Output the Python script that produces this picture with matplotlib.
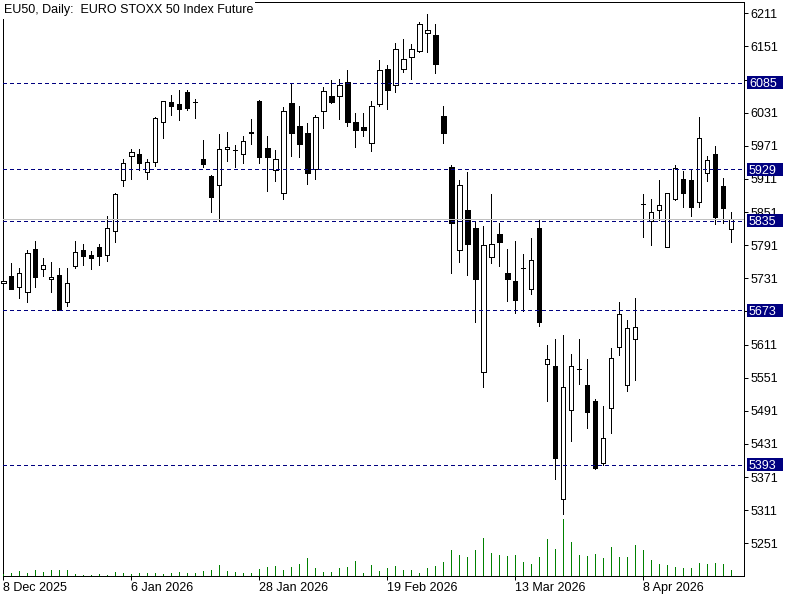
import matplotlib
matplotlib.use("Agg")
import matplotlib.pyplot as plt
import matplotlib.transforms as mtransforms
from matplotlib.patches import Rectangle

plt.rcParams['font.family'] = ['Liberation Sans', 'DejaVu Sans']

# daily OHLC, EU50 (index 0 = 8 Dec 2025)
opens = [5722, 5735, 5716, 5707, 5784, 5748, 5729, 5737, 5688, 5754,
         5782, 5773, 5787, 5774, 5817, 5909, 5952, 5956, 5923, 5942,
         6014, 6050, 6047, 6069, 6051, 5947, 5916, 5900, 5965, 5964,
         5956, 5995, 6052, 5967, 5927, 5885, 6048, 6006, 5994, 5929,
         6034, 6061, 6061, 6086, 6014, 6005, 5976, 6046, 6110, 6082,
         6111, 6131, 6143, 6175, 6172, 6025, 5932, 5782, 5854, 5822,
         5561, 5769, 5811, 5740, 5727, 5750, 5711, 5823, 5575, 5573,
         5331, 5492, 5567, 5537, 5508, 5396, 5497, 5606, 5537, 5621,
         5866, 5834, 5854, 5787, 5875, 5910, 5909, 5869, 5921, 5957,
         5898, 5820]
highs = [5730, 5758, 5749, 5782, 5799, 5767, 5761, 5750, 5750, 5799,
         5794, 5781, 5794, 5844, 5886, 5947, 5965, 5965, 5948, 6024,
         6052, 6063, 6072, 6073, 6056, 5982, 5918, 5992, 5996, 5973,
         5989, 6020, 6054, 5988, 5963, 6041, 6085, 6043, 6012, 6026,
         6077, 6090, 6092, 6108, 6030, 6030, 6052, 6126, 6118, 6158,
         6165, 6155, 6195, 6210, 6192, 6043, 5936, 5909, 5924, 5833,
         5826, 5884, 5831, 5785, 5799, 5775, 5804, 5837, 5610, 5621,
         5628, 5594, 5621, 5584, 5512, 5500, 5604, 5689, 5655, 5695,
         5883, 5875, 5909, 5886, 5936, 5925, 5927, 6024, 5953, 5971,
         5913, 5851]
lows = [5717, 5711, 5696, 5689, 5716, 5735, 5707, 5673, 5680, 5750,
        5755, 5748, 5755, 5763, 5796, 5899, 5911, 5928, 5911, 5935,
        5986, 6026, 6017, 6036, 6021, 5933, 5852, 5835, 5944, 5932,
        5940, 5974, 5939, 5890, 5908, 5875, 5953, 5950, 5901, 5911,
        6004, 6049, 6020, 6006, 5968, 5989, 5962, 6044, 6038, 6069,
        6105, 6092, 6141, 6141, 6103, 5977, 5741, 5761, 5737, 5652,
        5535, 5758, 5754, 5690, 5669, 5672, 5703, 5645, 5508, 5367,
        5304, 5437, 5539, 5459, 5385, 5393, 5451, 5593, 5526, 5546,
        5806, 5792, 5836, 5787, 5872, 5860, 5843, 5861, 5908, 5829,
        5831, 5796]
closes = [5726, 5712, 5740, 5776, 5734, 5755, 5733, 5674, 5723, 5778,
          5772, 5768, 5772, 5823, 5884, 5939, 5959, 5939, 5942, 6022,
          6052, 6044, 6038, 6040, 6050, 5938, 5879, 5965, 5969, 5963,
          5979, 5996, 5951, 5951, 5947, 6034, 5994, 5975, 5921, 6024,
          6070, 6051, 6081, 6015, 5999, 6000, 6043, 6108, 6072, 6146,
          6128, 6146, 6191, 6181, 6119, 5994, 5831, 5900, 5794, 5729,
          5791, 5794, 5796, 5730, 5691, 5749, 5765, 5651, 5584, 5405,
          5535, 5573, 5566, 5489, 5387, 5441, 5586, 5666, 5641, 5643,
          5865, 5852, 5863, 5885, 5930, 5886, 5861, 5986, 5945, 5842,
          5859, 5838]
# tick volume, thousands
volume = [2, 3.3, 5.3, 3.3, 6, 4.3, 6, 6, 6, 2,
          1, 1, 2, 1, 4.3, 3.3, 2.3, 2.7, 3.3, 3.3,
          2.3, 3.3, 4.3, 3.3, 3.3, 5.3, 6.3, 11, 5.3, 4.3,
          3.3, 3.3, 7, 9, 10, 6.3, 9, 12, 18, 8,
          4.3, 4.3, 8, 9, 15, 3.3, 11, 5.3, 8, 10,
          6, 6, 3.3, 8, 10, 14, 26, 21, 19, 26,
          38, 23, 21, 20, 21, 14, 12, 19, 37, 27,
          57, 34, 21, 20, 22, 18, 29, 19, 19, 31,
          26, 16, 12, 11, 9, 8, 8, 13, 12, 13,
          12, 6]

levels = [6085, 5929, 5835, 5673, 5393]
price_ticks = [6211, 6151, 6091, 6031, 5971, 5911, 5851, 5791, 5731,
               5671, 5611, 5551, 5491, 5431, 5371, 5311, 5251]
hidden_ticks = [6091, 5671]  # covered by the level labels
date_idx = [0, 16, 32, 48, 64, 80]
date_labels = ["8 Dec 2025", "6 Jan 2026", "28 Jan 2026",
               "19 Feb 2026", "13 Mar 2026", "8 Apr 2026"]

navy = "#000080"
px = 0.72  # one pixel in points at 100 dpi

fig = plt.figure(figsize=(8, 6), dpi=100)
ax = fig.add_axes([2.7 / 800, 24 / 600, 741.6 / 800, 574 / 600])
ax.set_xlim(-0.05, 92.65)
ax.set_ylim(5191.8, 6231.5)

xs = list(range(len(opens)))

# volume in the bottom of the window
vax = ax.twinx()
vax.set_ylim(0, max(volume) * 574 / 57)
vax.vlines(xs, 0, volume, color="#008000", linewidth=px, antialiased=False)
vax.set_axis_off()

# candles
ax.vlines(xs, lows, highs, color="black", linewidth=px, zorder=2,
          clip_on=False, antialiased=False)
heights = [abs(c - o) for o, c in zip(opens, closes)]
bottoms = [min(o, c) for o, c in zip(opens, closes)]
faces = ["white" if c >= o else "black" for o, c in zip(opens, closes)]
ax.bar(xs, heights, bottom=bottoms, width=0.6, color=faces,
       edgecolor="black", linewidth=px, zorder=3, clip_on=False,
       antialiased=False)

# bid line and horizontal levels
ax.axhline(closes[-1], color="#C0C0C0", linewidth=px, zorder=4, antialiased=False)
trans = mtransforms.blended_transform_factory(ax.transAxes, ax.transData)
for lvl in levels:
    ax.axhline(lvl, color=navy, linewidth=px, linestyle=(0, (3, 3)),
               zorder=5, antialiased=False)
    ax.add_patch(Rectangle((1.0036, lvl - 11.8), 0.049, 23.5, transform=trans,
                           facecolor=navy, edgecolor="none", clip_on=False,
                           zorder=6, antialiased=False))
    ax.text(1.0062, lvl, str(lvl), transform=trans, color="white", fontsize=9,
            ha="left", va="center_baseline", clip_on=False, zorder=7)

# axes styling
ax.yaxis.tick_right()
ax.set_yticks(price_ticks)
ax.set_yticklabels(["" if t in hidden_ticks else str(t) for t in price_ticks])
ax.tick_params(axis="y", direction="out", length=4 * px, width=px, pad=1.5,
               labelsize=9, colors="black")
ax.set_xticks(date_idx)
ax.set_xticklabels(date_labels, ha="left")
ax.tick_params(axis="x", direction="out", length=4 * px, width=px, pad=1.5,
               labelsize=9)
for sp in ax.spines.values():
    sp.set_linewidth(px)
    sp.set_color("black")
    sp.set_antialiased(False)

fig.text(3.5 / 800, 1 - 4.4 / 600, "EU50, Daily:  EURO STOXX 50 Index Future",
         ha="left", va="top", fontsize=9,
         bbox=dict(facecolor="white", edgecolor="none", pad=1.5))

fig.savefig("out.png", dpi=100)
